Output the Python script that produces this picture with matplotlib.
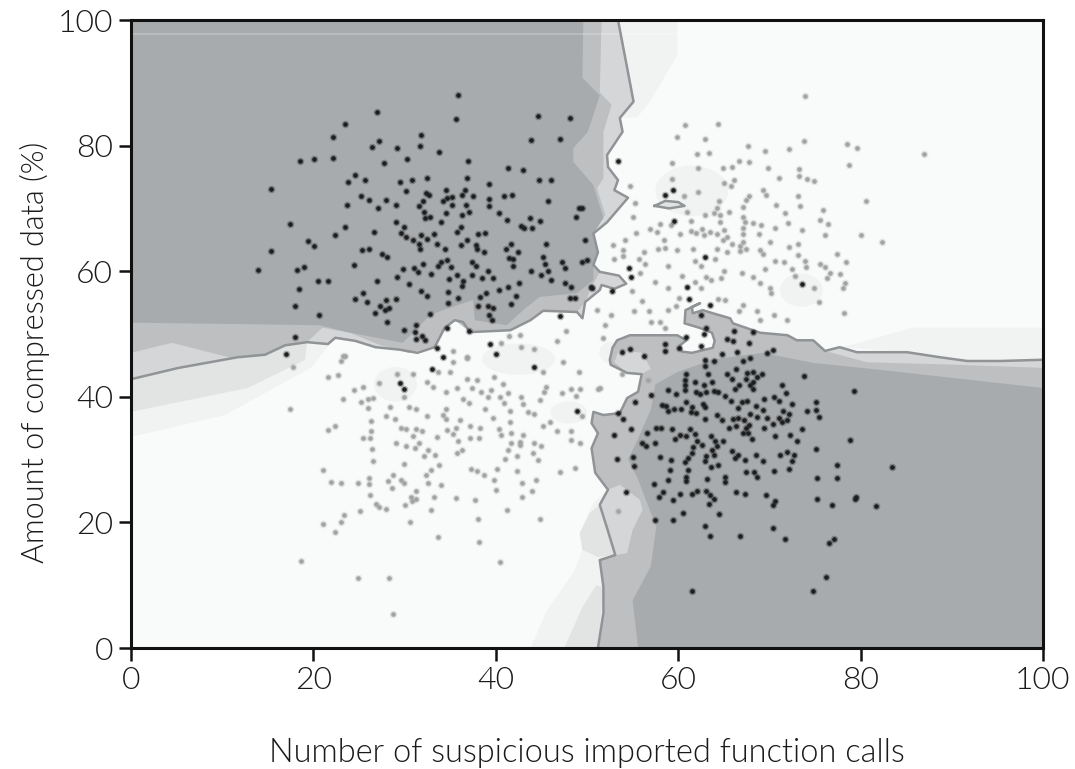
import matplotlib
matplotlib.use("Agg")
import matplotlib.pyplot as plt
import numpy as np
from matplotlib.patches import Ellipse

X_LABEL = "Number of suspicious imported function calls"
Y_LABEL = "Amount of compressed data (%)"
TICKS = [0, 20, 40, 60, 80, 100]

# decision boundaries, data units
upper_left_line = [
    (53.4, 100), (54.7, 90.1), (55.1, 87), (53.6, 84.4), (53.9, 82.2), (52.2, 78.5), (52.3, 76.6),
    (53.4, 74.5), (53, 72.9), (54.5, 71.7), (52.2, 67.8), (50.7, 66), (51.2, 63), (50.7, 61),
    (51.4, 59.9), (53.5, 59.3), (54.3, 58), (53, 57.2), (51.6, 57.8), (51.4, 57), (49.8, 55.1),
    (49.5, 52.5), (48.9, 53.5), (45.2, 53.7), (43.8, 52.2), (41.6, 50.6), (37.2, 50.3), (36.4, 51.9),
    (35.5, 52.2), (34.4, 51), (33.3, 47.9), (31.4, 47), (29.5, 47.5), (26.8, 47.9), (24.6, 48.9),
    (22.4, 49.4), (21.6, 48.4), (19.3, 48.7), (16.9, 48.2), (14.7, 46.7), (11.7, 46.3), (5.2, 44.6),
    (0, 42.8),
]
lower_right_line = [
    (100, 45.9), (95.3, 45.7), (91.7, 45.7), (88.7, 46.3), (85.1, 47.1), (79.6, 47.1), (77.7, 47.9),
    (76.1, 47.3), (74.8, 49), (73, 49), (72, 49.8), (69, 50.2), (66, 51.7), (65.7, 52.5), (63.8, 53.3),
    (62.7, 53.8), (61.6, 53.3), (61.5, 54.3), (62.4, 54.9), (60.8, 53.8), (60.7, 51.7), (62.3, 51),
    (63.7, 50.2), (64, 48.9), (63.8, 47.8), (61.5, 47), (60.4, 47.2), (60.2, 48.2), (60.9, 49),
    (59.9, 49.8), (54.7, 49.8), (53.3, 49), (52.8, 47.8), (52.5, 45.9), (52.6, 45.1), (54.4, 43.8),
    (56, 43.6), (55.6, 40.8), (54.4, 39.8), (53.6, 37.4), (51.8, 37.1), (50.7, 37.6), (50.5, 35.8),
    (51.2, 34.2), (50.5, 31.8), (50.9, 27.9), (52.3, 25.2), (51.4, 22.8), (52.2, 19.1), (53.1, 14.8),
    (51.4, 14), (51.8, 9.7), (51.8, 5.6), (51.2, 0),
]

# shaded bands around the boundaries
upper_left_mid = [
    (51.6, 100), (51.4, 88.5), (52.7, 86.5), (51.8, 82.2), (51.8, 74.8), (51.1, 73.2), (52, 69),
    (50.7, 66), (51.2, 63), (50.7, 61), (51.4, 59.9), (50.5, 57.5), (49.8, 55.1), (48.9, 53.5),
    (45.2, 53.7), (43.8, 52.2), (41.6, 50.6), (37.2, 50.3), (35.5, 52.2), (34.4, 51), (33.3, 47.9),
    (30.4, 47), (27, 48.4), (24, 50.2), (21, 51), (19.3, 48.7), (16.9, 48.2), (14.7, 46.7), (11, 46.2),
    (4.5, 48.6), (0, 47),
]
upper_left_dark = [
    (49.6, 100), (49.5, 90.8), (51.4, 88), (50.1, 82.2), (48.5, 79.6), (48.5, 77.4), (50.7, 73.7),
    (51.8, 68.5), (50.7, 66), (51.2, 63), (50.7, 61), (50.7, 58.6), (48.9, 56.5), (44.8, 55.9), (43, 53.8),
    (41.2, 51.4), (37.7, 52.2), (37.5, 55.4), (34.2, 53.8), (32.8, 53), (29.8, 48.6), (23.7, 50.3),
    (20.7, 51.4), (10.9, 51.6), (0, 51.8),
]
lower_right_dark = [
    (100, 41.4), (82.1, 44.3), (74.8, 45.4), (69.3, 47), (64, 46), (60, 44), (57.5, 42), (57, 38),
    (55.5, 33), (54.5, 30), (55.5, 27.2), (57.6, 19.3), (57, 13), (55, 7.6), (55.6, 0), (100, 0),
]
light_patches = [
    [(52.3, 25.2), (53.6, 26), (55.8, 23.6), (56.1, 22), (55, 18.8), (54.4, 15.1), (53.1, 14.8), (52.2, 19.1), (51.4, 22.8)],
    [(76.1, 47.3), (80.7, 45.5), (90.6, 45.1), (100, 44.6), (100, 45.9), (95.3, 45.7), (91.7, 45.7), (88.7, 46.3), (85.1, 47.1), (79.6, 47.1), (77.7, 47.9)],
    [(53.5, 47.5), (56, 47), (57, 44.5), (56, 43.6), (54.4, 43.8), (53, 45.5)],
]
faint_patches = [
    [(0, 42.8), (0, 37.6), (12.8, 41.4), (19.1, 45.9), (19.3, 48.7), (16.9, 48.2), (14.7, 46.7), (11.7, 46.3), (5.2, 44.6)],
    [(47.5, 0), (49.5, 6.5), (51, 10), (51.8, 9.7), (51.2, 0)],
    [(49.5, 15.6), (49.2, 18.3), (50.3, 21.5), (51.4, 22.8), (52.2, 19.1), (53.1, 14.8), (51.2, 14.5)],
]
palest_patches = [
    [(0, 42.8), (0, 33.6), (10.3, 37.1), (19.8, 44.7), (22, 48.8), (16.9, 48.2), (5.2, 44.6)],
    [(43.8, 0), (45.6, 6), (48.5, 12), (49.5, 15.6), (49.2, 18.3), (50.7, 23.1), (52.3, 25.2), (53.1, 14.8), (51.8, 5.6), (51.2, 0)],
    [(53.4, 100), (59.9, 100), (59.9, 94.4), (56.9, 87), (55.5, 84.5), (53.6, 84.4), (54.7, 90.1)],
    [(77.7, 47.9), (78.8, 48.2), (85.7, 51), (100, 51), (100, 45.9), (91.7, 45.7), (85.1, 47.1)],
]
small_island = [(57.4, 70.4), (58.6, 71.2), (60, 71), (60.7, 70.4), (59, 70)]
# centre x, centre y, width, height
faint_blobs = [(61.5, 72.8, 8, 8), (29, 42, 4.7, 5.5), (73.5, 57, 4.7, 5.3), (42.5, 46, 8, 5), (48, 37.5, 4, 3.5), (52.6, 47, 2.5, 3.5)]

malicious = [
    (35.9, 88.1), (27.0, 85.4), (35.6, 84.2), (44.6, 84.7), (48.1, 84.4), (23.5, 83.5), (22.1, 81.4), (31.8, 81.7),
    (31.7, 80.0), (27.2, 80.8), (26.4, 79.8), (29.2, 79.6), (43.9, 80.9), (47.0, 81.0), (33.8, 79.0), (18.5, 77.6),
    (20.1, 77.9), (22.2, 78.0), (27.7, 77.3), (30.3, 77.8), (37.0, 77.6), (41.3, 76.5), (43.0, 76.1), (24.6, 75.3),
    (23.8, 74.2), (25.7, 74.6), (32.5, 74.9), (30.8, 74.5), (29.5, 74.2), (36.8, 74.9), (44.7, 74.5), (46.1, 74.5),
    (39.2, 73.9), (15.4, 73.1), (30.1, 72.7), (32.4, 72.5), (32.7, 72.1), (34.5, 72.9), (36.6, 72.9), (36.3, 72.2),
    (37.5, 71.9), (40.9, 72.0), (41.8, 72.2), (25.2, 72.0), (26.1, 71.3), (28.0, 71.3), (23.7, 70.5), (27.1, 70.0),
    (29.1, 70.6), (32.0, 71.2), (31.6, 70.4), (32.1, 69.5), (34.2, 71.1), (34.6, 71.6), (35.2, 71.8), (35.2, 70.6),
    (36.7, 70.6), (39.3, 71.5), (39.3, 70.4), (45.7, 71.2), (49.1, 70.1), (49.5, 70.1), (48.8, 68.6), (40.3, 69.2),
    (34.5, 69.2), (36.3, 68.9), (37.1, 69.5), (32.2, 68.5), (32.8, 68.6), (41.2, 68.1), (43.7, 68.5), (44.9, 68.0),
    (34.0, 67.8), (29.1, 67.8), (17.4, 67.5), (23.5, 67.1), (42.8, 67.2), (43.1, 66.9), (44.0, 66.9), (36.2, 67.1),
    (35.7, 66.3), (29.9, 67.0), (29.6, 66.1), (26.6, 66.3), (22.4, 65.8), (31.8, 65.8), (33.2, 65.9), (30.1, 65.4),
    (30.9, 65.0), (32.5, 65.1), (38.1, 65.9), (38.8, 66.1), (36.8, 65.0), (19.4, 64.8), (20.1, 64.0), (31.6, 64.4),
    (31.7, 63.6), (33.5, 64.3), (36.2, 64.1), (37.8, 64.1), (37.9, 63.5), (41.7, 64.4), (41.1, 63.6), (45.5, 64.3),
    (49.8, 65.0), (15.3, 63.2), (25.3, 63.4), (26.1, 63.6), (34.4, 63.5), (27.5, 62.8), (28.1, 62.3), (38.7, 63.0),
    (42.4, 63.0), (41.5, 62.1), (41.9, 62.0), (45.2, 62.3), (24.5, 61.0), (34.0, 61.4), (34.6, 61.8), (33.7, 60.8),
    (37.4, 61.5), (37.8, 60.8), (41.9, 60.9), (45.4, 61.1), (47.3, 61.5), (47.6, 60.5), (49.5, 61.4), (50.0, 61.8),
    (13.9, 60.2), (18.2, 60.2), (19.0, 60.7), (29.8, 60.4), (31.0, 60.5), (32.0, 61.1), (31.5, 59.8), (35.1, 60.6),
    (32.9, 59.6), (35.7, 59.4), (37.4, 59.4), (39.1, 60.0), (38.5, 58.9), (39.7, 58.9), (43.9, 60.0), (45.0, 59.4),
    (45.7, 60.0), (46.0, 58.6), (29.2, 59.0), (20.5, 58.5), (21.6, 58.4), (27.0, 58.4), (34.9, 58.7), (36.4, 58.4),
    (36.3, 57.6), (30.5, 57.9), (42.5, 58.2), (47.6, 58.2), (48.3, 57.5), (50.4, 57.5), (18.4, 57.1), (41.3, 57.5),
    (40.3, 57.0), (31.8, 56.9), (32.5, 56.1), (34.8, 56.7), (38.9, 56.6), (38.3, 55.9), (42.2, 56.1), (25.4, 56.6),
    (24.6, 55.5), (25.9, 55.1), (28.0, 55.4), (29.1, 55.6), (35.9, 55.7), (48.1, 55.7), (48.7, 55.8), (34.8, 54.9),
    (18.0, 54.4), (27.3, 54.4), (28.3, 54.1), (27.9, 53.8), (38.0, 54.5), (39.1, 54.5), (39.7, 54.1), (41.7, 54.7),
    (26.7, 53.4), (20.6, 53.1), (32.8, 53.2), (39.2, 53.0), (39.6, 52.2), (47.0, 52.8), (28.1, 51.9), (31.3, 51.5),
    (29.9, 50.7), (31.1, 50.3), (31.9, 49.7), (32.2, 49.0), (31.2, 49.2), (34.7, 51.0), (37.1, 50.4), (18.0, 49.6),
    (17.0, 46.8), (33.5, 47.7), (39.4, 48.4), (40.0, 46.8), (34.2, 46.3), (33.0, 44.5), (44.2, 44.8), (29.5, 42.2),
    (29.9, 41.2), (48.9, 37.8), (53.4, 77.6), (59.4, 72.9), (58.6, 72.1), (59.5, 68.0), (62.9, 62.2), (54.6, 60.5),
    (54.8, 59.0), (52.7, 56.9), (50.5, 57.4), (61.0, 57.5), (61.2, 55.5), (63.5, 54.6), (62.5, 53.0), (73.6, 57.9),
    (63.1, 50.9), (62.8, 50.0), (66.1, 50.4), (68.2, 50.3), (60.9, 49.5), (65.4, 49.2), (66.0, 48.9), (67.8, 48.6),
    (62.5, 48.1), (53.8, 47.2), (54.7, 47.6), (58.6, 48.4), (58.6, 47.3), (60.1, 47.8), (56.3, 46.5), (64.8, 46.8),
    (66.4, 47.1), (69.7, 46.9), (70.4, 47.4), (62.9, 45.9), (62.9, 44.9), (63.9, 45.7), (67.1, 45.7), (67.9, 46.1),
    (66.3, 44.5), (63.3, 43.7), (60.9, 43.6), (60.7, 42.7), (60.7, 41.9), (60.7, 41.1), (65.3, 43.6), (65.9, 42.9),
    (67.5, 43.8), (68.2, 43.9), (69.2, 43.7), (67.4, 42.9), (68.6, 43.2), (68.2, 42.4), (73.8, 43.3), (61.8, 42.4),
    (63.7, 42.3), (62.8, 41.8), (67.9, 41.9), (68.2, 41.3), (66.2, 41.2), (66.7, 41.8), (71.4, 41.8), (71.8, 40.6),
    (79.3, 40.9), (58.9, 41.1), (59.8, 40.5), (57.0, 40.3), (62.0, 40.8), (62.4, 40.5), (63.0, 40.8), (63.9, 41.0),
    (64.4, 40.7), (65.1, 40.2), (70.5, 39.9), (71.1, 39.3), (69.4, 39.6), (65.8, 39.4), (60.9, 39.2), (61.5, 38.4),
    (62.7, 38.9), (62.9, 38.4), (67.0, 39.2), (67.5, 39.3), (55.3, 39.1), (53.4, 37.4), (54.0, 36.4), (58.2, 38.7),
    (58.7, 38.5), (72.5, 38.9), (75.1, 39.1), (68.5, 38.5), (66.6, 38.2), (69.3, 37.9), (58.9, 37.7), (59.5, 38.0),
    (60.3, 38.0), (61.4, 37.6), (62.0, 37.4), (74.1, 37.8), (75.1, 37.9), (75.4, 36.8), (71.5, 37.8), (72.1, 37.2),
    (71.9, 36.3), (71.0, 36.7), (71.4, 36.0), (64.2, 37.1), (62.9, 36.4), (64.8, 36.3), (66.0, 36.5), (66.6, 36.6),
    (67.2, 36.3), (67.9, 37.2), (68.6, 36.8), (69.7, 36.6), (70.4, 35.7), (69.4, 35.1), (57.6, 35.1), (58.1, 35.1),
    (54.8, 34.9), (56.6, 34.3), (59.3, 34.8), (61.3, 34.8), (65.6, 35.1), (66.3, 35.4), (67.8, 35.5), (67.4, 35.0),
    (67.1, 34.2), (67.7, 34.3), (73.6, 34.9), (53.0, 33.9), (60.2, 33.9), (60.9, 33.7), (59.6, 33.3), (61.8, 34.1),
    (62.1, 33.0), (62.6, 32.4), (63.6, 33.8), (64.0, 33.0), (64.9, 32.9), (70.6, 33.7), (72.3, 33.9), (73.0, 33.0),
    (68.1, 33.3), (78.8, 33.1), (56.0, 32.7), (56.5, 32.2), (57.5, 32.6), (61.6, 32.0), (64.2, 32.1), (63.7, 31.6),
    (75.1, 31.7), (65.9, 31.3), (66.6, 30.7), (66.2, 30.3), (67.3, 29.9), (61.5, 31.0), (61.1, 30.2), (60.7, 29.6),
    (68.5, 30.8), (69.3, 29.8), (71.2, 30.7), (71.9, 31.2), (72.7, 30.8), (72.5, 29.8), (53.3, 30.1), (55.0, 30.4),
    (55.2, 29.0), (58.0, 30.4), (59.2, 29.9), (63.1, 30.5), (63.9, 30.7), (62.9, 29.8), (63.6, 28.9), (64.4, 29.2),
    (77.4, 29.2), (83.4, 28.8), (72.1, 28.5), (70.5, 28.2), (59.1, 28.3), (61.1, 28.3), (67.4, 28.0), (68.3, 28.0),
    (68.6, 27.3), (60.9, 27.3), (60.9, 26.6), (65.1, 27.3), (65.1, 26.5), (58.9, 26.7), (63.2, 26.9), (75.2, 27.1),
    (77.4, 27.1), (57.4, 26.1), (54.3, 24.9), (58.3, 24.9), (57.9, 24.1), (59.4, 23.5), (60.2, 24.6), (61.5, 24.5),
    (62.1, 25.0), (63.0, 25.0), (63.5, 24.3), (63.9, 23.7), (63.4, 23.0), (66.3, 24.9), (67.3, 24.5), (69.6, 24.3),
    (70.6, 23.4), (70.4, 22.8), (75.2, 23.8), (79.5, 24.1), (79.4, 23.7), (76.9, 22.8), (81.7, 22.6), (60.5, 21.5),
    (64.5, 21.4), (57.5, 20.4), (59.4, 20.4), (62.9, 19.5), (70.4, 19.1), (63.5, 17.8), (66.8, 17.8), (71.7, 17.4),
    (77.1, 17.3), (76.5, 16.7), (76.2, 11.3), (61.5, 9.0), (74.8, 9.1),
]
benign = [
    (23.5, 46.5), (23.0, 45.7), (17.8, 44.8), (21.6, 43.2), (22.7, 43.5), (29.2, 43.7), (30.9, 43.6), (27.2, 42.2),
    (24.4, 41.1), (25.4, 41.5), (23.2, 39.7), (26.0, 39.6), (26.5, 39.8), (25.2, 39.2), (26.0, 38.2), (17.4, 38.0),
    (29.9, 39.9), (28.4, 38.4), (30.5, 38.4), (31.2, 38.1), (28.0, 36.9), (28.9, 36.4), (32.5, 36.9), (34.5, 38.1),
    (34.2, 37.1), (34.5, 36.4), (32.5, 42.3), (33.1, 41.6), (34.5, 40.8), (35.8, 41.4), (37.4, 41.4), (38.4, 40.7),
    (36.8, 42.8), (37.9, 42.6), (35.0, 43.9), (33.7, 44.0), (35.3, 45.5), (36.8, 46.1), (35.3, 47.3), (39.8, 43.2),
    (40.8, 42.1), (41.3, 40.6), (39.5, 41.1), (39.1, 39.9), (40.5, 39.9), (40.9, 39.0), (36.4, 39.6), (37.1, 39.0),
    (38.8, 38.1), (39.7, 36.6), (41.6, 37.8), (42.8, 40.0), (43.0, 38.8), (43.5, 37.6), (44.2, 37.3), (44.8, 39.5),
    (45.3, 40.7), (45.5, 41.5), (45.2, 43.9), (47.4, 45.6), (49.1, 43.9), (42.8, 48.0), (44.2, 47.6), (47.3, 40.6),
    (48.3, 41.3), (49.2, 41.2), (48.8, 40.1), (51.4, 41.4), (49.4, 36.9), (21.6, 34.7), (22.4, 35.4), (26.3, 36.1),
    (26.3, 34.6), (26.2, 33.5), (25.4, 33.4), (26.4, 31.7), (26.5, 29.7), (29.6, 35.0), (30.2, 34.8), (31.3, 34.8),
    (31.9, 34.6), (30.9, 33.8), (33.6, 33.6), (34.6, 34.7), (35.6, 35.0), (35.3, 34.0), (36.1, 36.3), (37.2, 35.4),
    (38.3, 35.0), (37.2, 33.4), (38.2, 33.5), (35.9, 32.9), (40.3, 34.8), (40.6, 33.9), (41.6, 36.0), (41.7, 34.3),
    (43.0, 33.9), (45.2, 35.3), (45.9, 36.0), (46.7, 34.6), (48.3, 34.6), (48.2, 33.1), (49.2, 32.7), (29.1, 32.7),
    (30.2, 32.2), (31.1, 31.9), (31.6, 32.6), (32.6, 31.5), (32.1, 30.5), (33.3, 30.7), (35.7, 31.0), (36.3, 31.6),
    (41.7, 32.6), (42.6, 32.8), (41.3, 31.5), (42.7, 32.3), (44.2, 32.7), (45.0, 32.2), (44.1, 31.0), (44.6, 30.0),
    (41.0, 30.1), (42.3, 30.5), (29.9, 29.3), (33.8, 29.1), (32.9, 28.3), (32.4, 27.6), (21.1, 28.3), (37.3, 28.5),
    (37.9, 28.2), (38.7, 27.6), (40.1, 28.5), (42.3, 28.2), (48.7, 28.7), (47.0, 28.0), (21.9, 26.4), (23.0, 26.3),
    (24.9, 26.2), (26.1, 27.0), (26.1, 26.1), (28.7, 27.5), (28.2, 26.6), (29.6, 26.7), (29.9, 26.2), (32.6, 26.3),
    (34.0, 26.0), (39.8, 26.7), (40.0, 25.2), (42.9, 26.2), (44.4, 26.8), (44.0, 25.0), (42.9, 24.0), (28.6, 25.4),
    (31.2, 25.0), (26.2, 24.4), (26.9, 23.0), (27.2, 22.5), (28.0, 22.1), (30.7, 24.1), (30.8, 23.4), (31.3, 23.8),
    (30.0, 22.8), (33.2, 24.1), (35.6, 23.9), (37.7, 23.6), (32.9, 22.0), (25.1, 21.8), (41.2, 22.0), (23.4, 21.2),
    (23.0, 20.1), (21.0, 19.8), (30.6, 20.1), (38.1, 20.5), (44.9, 20.6), (22.4, 18.5), (33.7, 17.6), (38.2, 16.8),
    (18.6, 13.8), (40.5, 13.7), (24.9, 11.1), (28.3, 11.1), (28.7, 5.4),
    (73.9, 87.9), (60.7, 83.3), (64.4, 83.4), (59.9, 81.4), (62.9, 81.1), (73.8, 80.8), (78.5, 80.2), (79.6, 79.6),
    (67.7, 80.0), (69.5, 79.2), (72.2, 79.4), (62.1, 78.6), (63.4, 78.8), (87.0, 78.7), (59.3, 77.3), (66.7, 77.6),
    (67.8, 77.4), (78.7, 76.9), (62.2, 76.5), (64.9, 76.4), (65.9, 76.6), (69.9, 76.4), (73.2, 76.2), (73.2, 75.2),
    (71.0, 74.9), (74.1, 74.7), (74.9, 74.3), (59.3, 74.7), (66.1, 74.6), (65.0, 74.0), (65.8, 73.5), (54.7, 73.5),
    (69.3, 73.0), (69.6, 72.1), (62.2, 72.6), (60.6, 72.0), (73.1, 72.0), (67.8, 72.0), (67.4, 71.3), (67.1, 70.2),
    (64.5, 71.2), (64.2, 70.1), (55.3, 70.8), (80.6, 71.1), (70.7, 70.5), (73.4, 70.4), (75.9, 69.8), (61.0, 69.5),
    (65.6, 69.4), (62.9, 69.0), (63.9, 69.2), (64.6, 69.0), (71.7, 69.3), (67.1, 68.6), (55.0, 68.6), (75.6, 68.2),
    (76.4, 67.5), (61.4, 68.0), (64.6, 67.8), (58.0, 67.5), (59.2, 67.3), (67.3, 67.9), (68.2, 67.7), (69.1, 67.3),
    (72.0, 67.6), (56.9, 66.7), (57.7, 66.2), (55.4, 66.1), (70.6, 66.8), (73.6, 66.6), (60.2, 66.0), (61.4, 66.4),
    (61.9, 66.1), (62.6, 66.7), (62.8, 65.8), (63.5, 66.2), (64.3, 66.0), (65.0, 66.5), (67.1, 66.8), (67.1, 65.9),
    (68.9, 66.0), (76.1, 65.7), (80.0, 65.8), (82.4, 64.6), (65.4, 65.5), (64.9, 64.9), (65.9, 64.3), (58.4, 64.9),
    (54.2, 64.9), (52.9, 64.2), (67.1, 64.6), (66.8, 64.0), (70.1, 64.6), (72.1, 63.9), (73.1, 64.3), (57.8, 63.5),
    (58.6, 63.7), (59.9, 63.4), (61.6, 63.6), (64.2, 63.6), (65.3, 63.1), (67.4, 63.6), (66.8, 63.2), (69.0, 63.4),
    (69.3, 62.8), (53.9, 63.4), (54.0, 62.4), (53.0, 62.0), (56.2, 63.1), (55.7, 61.9), (73.1, 62.6), (77.4, 62.7),
    (64.0, 61.9), (61.8, 61.6), (70.6, 61.7), (71.6, 61.4), (73.9, 61.7), (78.4, 61.5), (75.5, 61.1), (76.1, 60.7),
    (56.4, 61.1), (58.9, 60.9), (62.5, 60.8), (72.5, 60.4), (74.0, 60.7), (69.5, 60.3), (55.8, 59.7), (65.0, 60.0),
    (67.0, 59.7), (76.6, 59.7), (77.7, 59.6), (60.4, 59.2), (63.1, 59.1), (63.6, 58.6), (64.7, 58.9), (68.2, 59.0),
    (72.8, 59.3), (76.3, 58.9), (57.5, 58.3), (61.8, 58.3), (69.0, 58.2), (78.3, 58.1), (78.1, 57.3), (58.9, 57.3),
    (62.5, 57.4), (70.1, 57.3), (74.9, 57.3), (54.9, 56.9), (70.2, 56.6), (60.1, 55.8), (64.4, 55.6), (65.1, 55.4),
    (56.0, 55.3), (75.4, 55.1), (59.8, 54.5), (58.9, 53.8), (56.8, 53.6), (51.1, 53.8), (55.1, 53.6), (52.6, 53.0),
    (67.1, 54.6), (66.7, 53.7), (68.6, 53.7), (70.5, 53.1), (78.2, 53.4), (69.0, 52.3), (71.9, 52.2), (57.0, 51.9),
    (58.0, 51.9), (52.0, 51.4), (58.5, 50.9), (51.7, 49.3), (53.4, 21.8), (56.7, 42.7), (51.2, 41.3), (53.8, 43.7),
    (46.7, 48.9), (47.7, 50.5), (41.4, 49.7), (42.7, 49.8), (40.6, 48.5), (23.3, 46.5), (36.8, 46.3),
]

WHITE = "#f9fafa"
PALEST = "#f1f2f2"
FAINT = "#e2e3e3"
LIGHT = "#d5d6d7"
MID = "#bdbfc1"
DARK = "#a8abad"
LINE = "#909496"
TEXT = "#1a1a1a"


def fill(axis, points, color, order):
    xs, ys = zip(*points)
    axis.fill(xs, ys, color=color, linewidth=0, zorder=order)


def scatter_soft(axis, points, color, halo, order):
    # the reference dots are soft-edged, so a wider faint disc goes under each one
    axis.scatter(points[:, 0], points[:, 1], s=30, color=color, alpha=halo, linewidths=0, zorder=order)
    axis.scatter(points[:, 0], points[:, 1], s=11, color=color, linewidths=0, zorder=order + 1)


def main():
    plt.rcParams["font.family"] = ["Lato", "DejaVu Sans"]
    figure = plt.figure(figsize=(10.75, 7.69), dpi=100)
    axis = figure.add_axes([131 / 1075, 1 - 648 / 769, 912 / 1075, 628 / 769])
    axis.set_facecolor(WHITE)

    for patch in palest_patches:
        fill(axis, patch, PALEST, 1)
    for x, y, width, height in faint_blobs:
        axis.add_patch(Ellipse((x, y), width, height, color=PALEST, linewidth=0, zorder=1))
    for patch in faint_patches:
        fill(axis, patch, FAINT, 2)

    fill(axis, [(0, 100)] + upper_left_line, LIGHT, 3)
    fill(axis, lower_right_line + [(100, 0)], MID, 3)
    for patch in light_patches:
        fill(axis, patch, LIGHT, 4)
    fill(axis, [(0, 100)] + upper_left_mid, MID, 4)
    fill(axis, [(0, 100)] + upper_left_dark, DARK, 5)
    fill(axis, lower_right_dark, DARK, 5)
    fill(axis, small_island, FAINT, 5)

    axis.axhline(97.7, color="white", alpha=0.2, linewidth=1.5, zorder=6)

    for line in (upper_left_line, lower_right_line, small_island + small_island[:1]):
        xs, ys = zip(*line)
        axis.plot(xs, ys, color=LINE, linewidth=1.8, zorder=6, solid_joinstyle="round")

    scatter_soft(axis, np.array(benign), "#a2a4a4", 0.25, 7)
    scatter_soft(axis, np.array(malicious), "#1d1e1f", 0.3, 9)

    axis.set_xlim(0, 100)
    axis.set_ylim(0, 100)
    axis.set_xticks(TICKS)
    axis.set_yticks(TICKS)
    axis.tick_params(length=9, width=1.8, labelsize=23, pad=4, color="#111111", labelcolor=TEXT)
    for tick_label in axis.get_xticklabels() + axis.get_yticklabels():
        tick_label.set_fontweight(300)
    for spine in axis.spines.values():
        spine.set_linewidth(2.2)
        spine.set_color("#111111")
        spine.set_zorder(12)

    axis.set_xlabel(X_LABEL, fontsize=23.5, fontweight=300, color=TEXT, labelpad=31)
    axis.set_ylabel(Y_LABEL, fontsize=22, fontweight=300, color=TEXT, labelpad=5, y=0.47)
    figure.savefig("out.png", dpi=100)
    plt.close(figure)


if __name__ == "__main__":
    main()
